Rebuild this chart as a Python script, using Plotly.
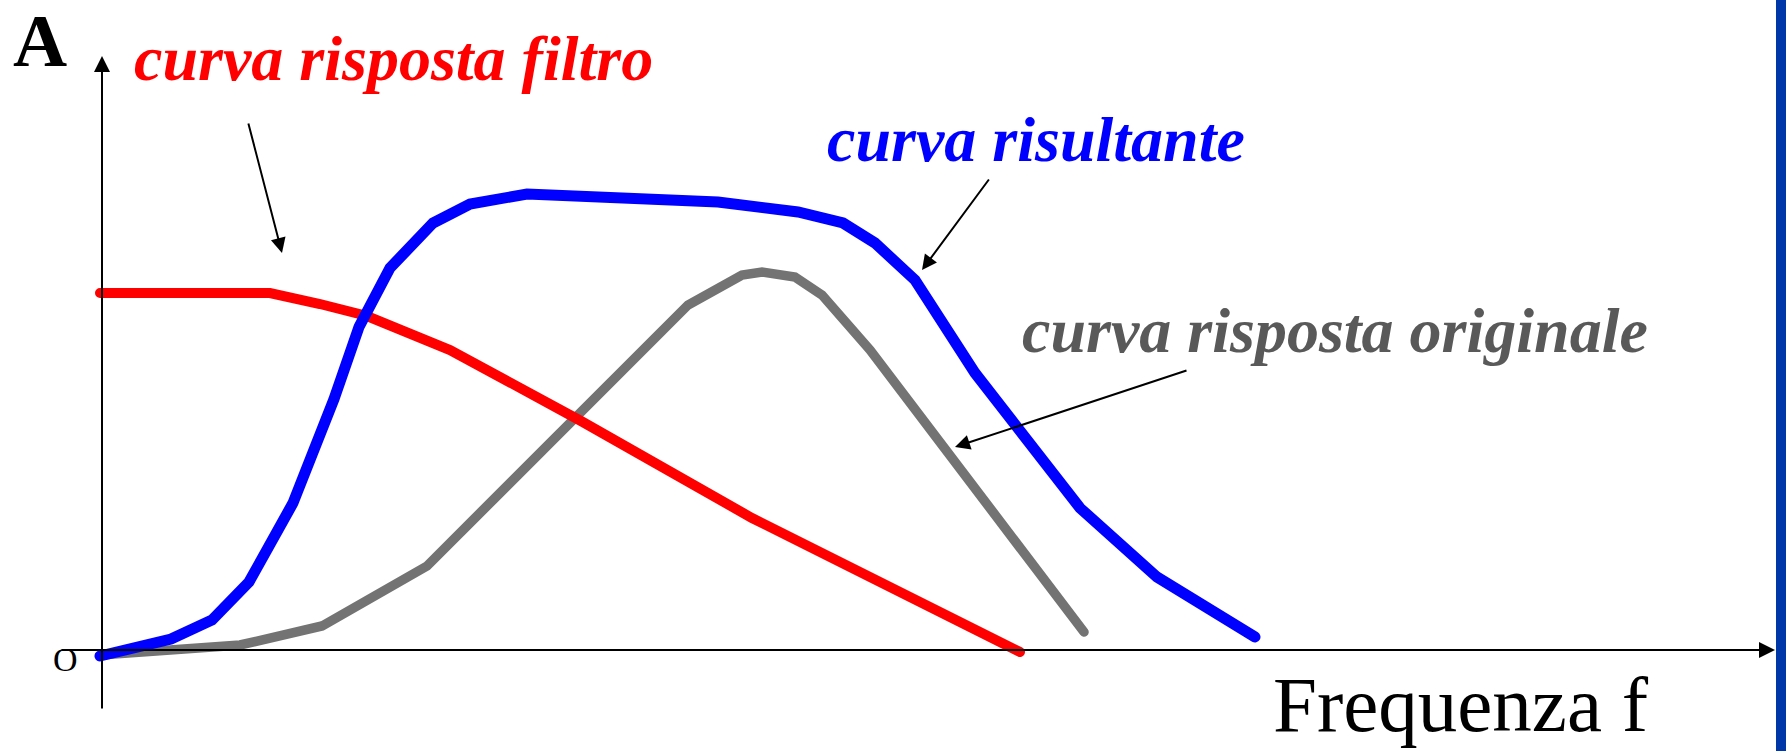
import plotly.graph_objects as go

# Units: frequency / amplitude in arbitrary units (origin at axes crossing)
red_f = [-2, 168, 218, 265, 348, 479, 650, 918]
red_a = [357, 357, 346, 334, 300, 229, 132, -2]

blue_f = [-2, 69, 110, 147, 191, 232, 257, 288, 331, 368, 425, 616, 696, 741, 773, 813, 873, 978, 1055, 1153]
blue_a = [-6, 11, 30, 68, 147, 251, 323, 382, 427, 446, 456, 448, 438, 427, 407, 370, 277, 142, 73, 13]

grey_f = [-2, 138, 220, 325, 586, 640, 660, 693, 720, 768, 982]
grey_a = [-5, 5, 24, 84, 345, 375, 378, 373, 355, 300, 18]

label_red = "curva risposta filtro"
label_blue = "curva risultante"
label_grey = "curva risposta originale"
label_x = "Frequenza f"
label_y = "A"
label_origin = "O"

SERIF = "Liberation Serif, Times New Roman, serif"

fig = go.Figure()
fig.add_trace(go.Scatter(x=grey_f, y=grey_a, mode="lines",
                         line=dict(color="#737373", width=9.5), hoverinfo="skip"))
fig.add_trace(go.Scatter(x=red_f, y=red_a, mode="lines",
                         line=dict(color="#FF0000", width=10), hoverinfo="skip"))
fig.add_trace(go.Scatter(x=blue_f, y=blue_a, mode="lines",
                         line=dict(color="#0000FF", width=11), hoverinfo="skip"))

def arrow(x, y, ax, ay, size=1.6):
    fig.add_annotation(x=x, y=y, ax=ax, ay=ay, xref="x", yref="y", axref="x", ayref="y",
                       text="", showarrow=True, arrowhead=2, arrowsize=size,
                       arrowwidth=2, arrowcolor="black", standoff=0, startstandoff=0)

# axes
arrow(0, 594, 0, -60)
arrow(1673, 0, -42, 0)
# label pointers
arrow(180, 397, 146, 528, 1.5)
arrow(820, 380, 888, 472, 1.5)
arrow(853, 203, 1086, 280, 1.5)

def label(txt, x, y, size, color, anchor="left"):
    fig.add_annotation(x=x, y=y, xref="x", yref="y", text=txt, showarrow=False,
                       xanchor=anchor, yanchor="middle",
                       font=dict(family=SERIF, size=size, color=color))

label("<b><i>" + label_red + "</i></b>", 30, 592, 64, "#FF0000")
label("<b><i>" + label_blue + "</i></b>", 723, 511, 64, "#0000FF")
label("<b><i>" + label_grey + "</i></b>", 918, 320, 64, "#595959")
label(label_x, 1169, -54, 79, "black")
label("<b>" + label_y + "</b>", -91, 610, 75, "black")
label(label_origin, -37, -9, 34, "black", anchor="center")

fig.add_shape(type="rect", xref="paper", yref="paper", x0=1776/1786, x1=1, y0=0, y1=1,
              fillcolor="#0037A8", line=dict(width=0), layer="above")

fig.update_layout(
    width=1786, height=751, margin=dict(l=0, r=0, t=0, b=0),
    paper_bgcolor="white", plot_bgcolor="white", showlegend=False,
    xaxis=dict(range=[-102, 1684], visible=False, fixedrange=True),
    yaxis=dict(range=[-101, 650], visible=False, fixedrange=True),
)

post = """
document.body.style.margin='0';
document.body.style.overflow='hidden';
document.querySelectorAll('.scatterlayer path.js-line').forEach(function(p){
  p.style.strokeLinecap='round'; p.style.strokeLinejoin='miter';
});
"""
fig.write_html("out.html", post_script=post, config={"displayModeBar": False})
